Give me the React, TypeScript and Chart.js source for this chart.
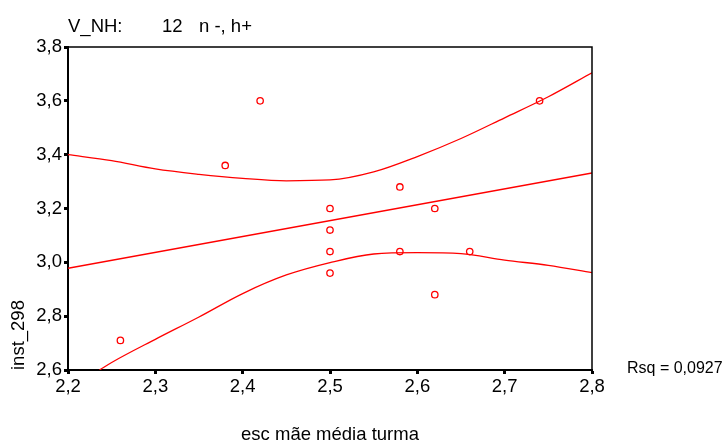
import React, { useEffect, useRef } from 'react';
import { Chart, registerables } from 'chart.js';

Chart.register(...registerables);

// Observed points
const pointX = [2.42, 2.38, 2.58, 2.5, 2.62, 2.5, 2.5, 2.58, 2.66, 2.5, 2.62, 2.26, 2.74];
const pointY = [3.6, 3.36, 3.28, 3.2, 3.2, 3.12, 3.04, 3.04, 3.04, 2.96, 2.88, 2.71, 3.6];

// Linear fit line
const fitX = [2.2, 2.8];
const fitY = [2.978, 3.332];

// Upper confidence curve
const upperX = [2.2, 2.25, 2.3, 2.35, 2.4, 2.45, 2.5, 2.55, 2.6, 2.65, 2.7, 2.75, 2.8];
const upperY = [3.4, 3.378, 3.347, 3.327, 3.312, 3.303, 3.306, 3.336, 3.393, 3.46, 3.537, 3.615, 3.704];

// Lower confidence curve
const lowerX = [2.236, 2.25, 2.3, 2.35, 2.4, 2.45, 2.5, 2.55, 2.6, 2.65, 2.7, 2.75, 2.8];
const lowerY = [2.6, 2.628, 2.714, 2.797, 2.884, 2.953, 2.999, 3.031, 3.036, 3.032, 3.008, 2.989, 2.962];

// Axes
const xTicks = [2.2, 2.3, 2.4, 2.5, 2.6, 2.7, 2.8];
const yTicks = [2.6, 2.8, 3.0, 3.2, 3.4, 3.6, 3.8];

// Texts
const titleParts = ['V_NH:', '12', 'n -, h+'];
const xTitle = 'esc mãe média turma';
const yTitle = 'inst_298';
const rsqLabel = 'Rsq = 0,0927';

const FONT = '"Liberation Sans", Arial, sans-serif';
const FS = 18.5;
const RED = '#ff0000';

const toXY = (xs: number[], ys: number[]) => xs.map((x, i) => ({ x, y: ys[i] }));
const fmt = (v: number) => v.toFixed(1).replace('.', ',');

const decor = {
  id: 'decor',
  afterDraw(chart: any) {
    const { ctx, chartArea: a } = chart;
    ctx.save();
    ctx.strokeStyle = '#000';
    ctx.lineWidth = 1.5;
    ctx.beginPath();
    ctx.moveTo(a.left, a.top);
    ctx.lineTo(a.right, a.top);
    ctx.lineTo(a.right, a.bottom);
    ctx.stroke();
    ctx.fillStyle = '#000';
    ctx.font = `${FS}px ${FONT}`;
    ctx.textBaseline = 'alphabetic';
    ctx.textAlign = 'left';
    ctx.fillText(titleParts[0], a.left, a.top - 15);
    ctx.fillText(titleParts[1], a.left + 94, a.top - 15);
    ctx.fillText(titleParts[2], a.left + 131, a.top - 15);
    ctx.font = `16px ${FONT}`;
    ctx.fillText(rsqLabel, a.right + 35, a.bottom + 3);
    ctx.restore();
  },
};

export default function App() {
  const ref = useRef<HTMLCanvasElement | null>(null);

  useEffect(() => {
    document.body.style.margin = '0';
    const canvas = ref.current;
    if (!canvas) return;
    const lineDs = (label: string, data: any[]) => ({
      label,
      data,
      showLine: true,
      borderColor: RED,
      borderWidth: 1.3,
      pointRadius: 0,
      fill: false,
      tension: 0.4,
      cubicInterpolationMode: 'monotone' as const,
    });
    const chart = new Chart(canvas, {
      type: 'scatter',
      data: {
        datasets: [
          {
            label: 'points',
            data: toXY(pointX, pointY),
            pointStyle: 'circle',
            pointRadius: 3.2,
            pointBorderWidth: 1.3,
            borderColor: RED,
            backgroundColor: 'rgba(0,0,0,0)',
            showLine: false,
          },
          lineDs('fit', toXY(fitX, fitY)),
          lineDs('upper', toXY(upperX, upperY)),
          lineDs('lower', toXY(lowerX, lowerY)),
        ],
      },
      options: {
        animation: false,
        responsive: false,
        devicePixelRatio: 1,
        layout: { padding: { top: 47, right: 131, left: 0, bottom: 0 } },
        plugins: { legend: { display: false }, tooltip: { enabled: false } },
        scales: {
          x: {
            type: 'linear',
            min: 2.2,
            max: 2.8,
            afterBuildTicks: (s: any) => {
              s.ticks = xTicks.map((v) => ({ value: v }));
            },
            afterFit: (s: any) => {
              s.height = 72;
            },
            ticks: {
              callback: (v: any) => fmt(Number(v)),
              color: '#000',
              font: { family: FONT, size: FS },
              padding: 2,
              maxRotation: 0,
              autoSkip: false,
            },
            grid: {
              drawOnChartArea: false,
              drawTicks: true,
              tickLength: 4,
              tickWidth: 3,
              tickColor: '#000',
              color: '#000',
            },
            border: { display: true, color: '#000', width: 2 },
            title: {
              display: true,
              text: xTitle,
              color: '#000',
              font: { family: FONT, size: FS, lineHeight: 0.8 },
              padding: { top: 0, bottom: 0 },
            },
          },
          y: {
            type: 'linear',
            min: 2.6,
            max: 3.8,
            afterBuildTicks: (s: any) => {
              s.ticks = yTicks.map((v) => ({ value: v }));
            },
            afterFit: (s: any) => {
              s.width = 68;
            },
            ticks: {
              callback: (v: any) => fmt(Number(v)),
              color: '#000',
              font: { family: FONT, size: FS },
              padding: 2,
              autoSkip: false,
            },
            grid: {
              drawOnChartArea: false,
              drawTicks: true,
              tickLength: 4,
              tickWidth: 3,
              tickColor: '#000',
              color: '#000',
            },
            border: { display: true, color: '#000', width: 2 },
            title: {
              display: true,
              text: yTitle,
              align: 'start',
              color: '#000',
              font: { family: FONT, size: FS },
              padding: { top: 8, bottom: 0 },
            },
          },
        },
      },
      plugins: [decor],
    });
    return () => chart.destroy();
  }, []);

  return (
    <div style={{ width: 723, height: 442 }}>
      <canvas ref={ref} width={723} height={442} style={{ display: 'block' }} />
    </div>
  );
}
